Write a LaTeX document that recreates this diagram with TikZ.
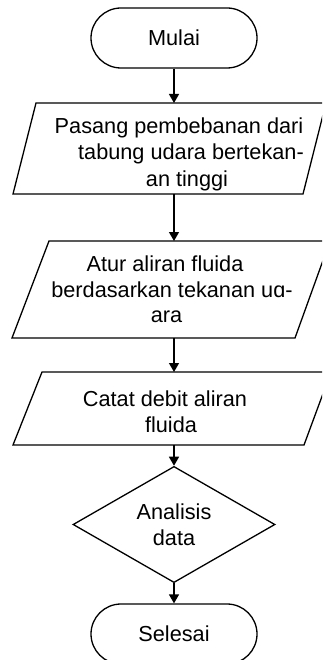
\documentclass[tikz,border=0pt]{standalone}
\usepackage{fontspec}
\setmainfont{Liberation Sans}
\usetikzlibrary{shapes.geometric,shapes.misc,arrows.meta}
\begin{document}
\begin{tikzpicture}[x=1pt,y=-1pt,
  line width=1.3pt,
  every node/.style={font=\fontsize{21.7}{25.5}\selectfont, text=black},
  term/.style={draw, rounded rectangle, minimum width=166pt, minimum height=60pt, inner sep=0pt},
  dec/.style={draw, diamond, minimum width=202pt, minimum height=91pt, inner sep=0pt, align=center},
  io/.style={draw, line join=miter},
  txt/.style={align=center, anchor=base, inner sep=0pt},
  flow/.style={-{Triangle[length=9pt,width=10pt]}}
]
\useasboundingbox (0,0) rectangle (322,660);
\clip (0,0) rectangle (322,660);
\fill[white] (0,0) rectangle (322,660);

% start
\node[term] (mulai) at (174,38) {Mulai};

% input 1
\draw[io] (36,103) -- (326,103) -- (303,194) -- (13,194) -- cycle;
\coordinate (p1n) at (174,103);
\coordinate (p1s) at (174,194);
\node[txt,font=\fontsize{21.7}{26.3}\selectfont] (t1) at (185,186)
  {Pasang pembebanan dari\hspace*{12pt}\\ \hspace*{12pt}tabung udara bertekan-\\ \hspace*{4pt}an tinggi};

% input 2
\draw[io] (49,241) -- (330,241) -- (295,338) -- (12,338) -- cycle;
\coordinate (p2n) at (174,241);
\coordinate (p2s) at (174,338);
\node[txt] (t2) at (169,322.7)
  {Atur aliran fluida\hspace*{8pt}\\ \hspace*{6pt}berdasarkan tekanan uɑ-\\ ara\hspace*{5pt}};

% input 3
\draw[io] (42,372) -- (331,372) -- (304,445) -- (13,445) -- cycle;
\coordinate (p3n) at (174,372);
\coordinate (p3s) at (174,445);
\node[txt] (t3) at (168,432)
  {Catat debit aliran\hspace*{6pt}\\ \hspace*{6pt}fluida};

% decision
\node[dec] (dec) at (174,524.5) {Analisis\\data};

% end
\node[term] (selesai) at (174,634) {Selesai};

% connectors
\draw[flow] (mulai.south) -- (p1n);
\draw[flow] (p1s) -- (p2n);
\draw[flow] (p2s) -- (p3n);
\draw[flow] (p3s) -- (dec.north);
\draw[flow] (dec.south) -- (selesai.north);
\end{tikzpicture}
\end{document}
